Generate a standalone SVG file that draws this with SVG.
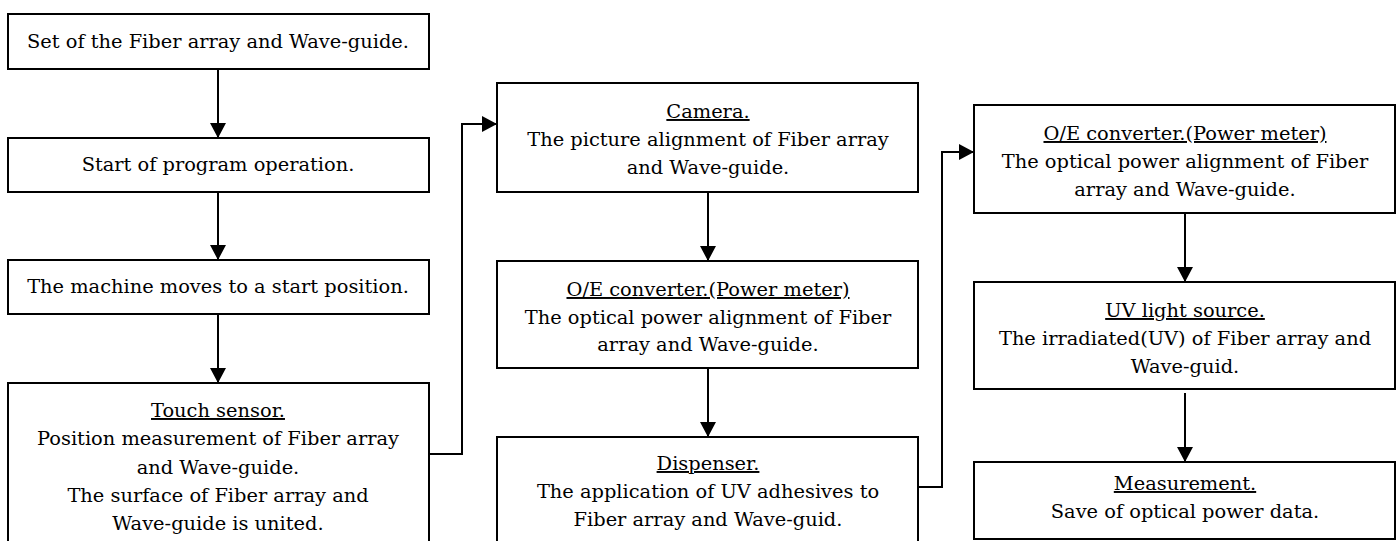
<svg xmlns="http://www.w3.org/2000/svg" width="1400" height="541" viewBox="0 0 1400 541">
<style>
.box{fill:#fff;stroke:#000;stroke-width:2}
.t{font-family:"DejaVu Serif","Liberation Serif",serif;font-size:19.4px;fill:#000;text-anchor:middle}
.u{text-decoration:underline}
.c{fill:none;stroke:#000;stroke-width:2}
</style>
<defs>
<marker id="ah" markerWidth="16" markerHeight="16" viewBox="0 0 16 16" refX="15" refY="8" orient="auto" markerUnits="userSpaceOnUse">
<path d="M0,0 L15,8 L0,16 Z" fill="#000"/>
</marker>
</defs>
<rect width="1400" height="541" fill="#fff"/>
<g id="connectors">
<path class="c" d="M218,69 V138" marker-end="url(#ah)"/>
<path class="c" d="M218,192 V260" marker-end="url(#ah)"/>
<path class="c" d="M218,314 V383" marker-end="url(#ah)"/>
<path class="c" d="M429,454 H462 V124 H497" marker-end="url(#ah)"/>
<path class="c" d="M708,192 V261" marker-end="url(#ah)"/>
<path class="c" d="M708,368 V437" marker-end="url(#ah)"/>
<path class="c" d="M918,487 H942 V152 H974" marker-end="url(#ah)"/>
<path class="c" d="M1185,213 V282" marker-end="url(#ah)"/>
<path class="c" d="M1185,393 V462" marker-end="url(#ah)"/>
</g>
<g id="n1">
<rect class="box" x="8" y="14" width="421" height="55"/>
<text class="t" x="218" y="48">Set of the Fiber array and Wave-guide.</text>
</g>
<g id="n2">
<rect class="box" x="8" y="138" width="421" height="54"/>
<text class="t" x="218" y="171">Start of program operation.</text>
</g>
<g id="n3">
<rect class="box" x="8" y="260" width="421" height="54"/>
<text class="t" x="218" y="293">The machine moves to a start position.</text>
</g>
<g id="n4">
<rect class="box" x="8" y="383" width="421" height="165"/>
<text class="t u" x="218" y="417">Touch sensor.</text>
<text class="t" x="218" y="445">Position measurement of Fiber array</text>
<text class="t" x="218" y="474">and Wave-guide.</text>
<text class="t" x="218" y="502">The surface of Fiber array and</text>
<text class="t" x="218" y="530">Wave-guide is united.</text>
</g>
<g id="n5">
<rect class="box" x="497" y="83" width="421" height="109"/>
<text class="t u" x="708" y="118">Camera.</text>
<text class="t" x="708" y="146">The picture alignment of Fiber array</text>
<text class="t" x="708" y="174">and Wave-guide.</text>
</g>
<g id="n6">
<rect class="box" x="497" y="261" width="421" height="107"/>
<text class="t u" x="708" y="296">O/E converter.(Power meter)</text>
<text class="t" x="708" y="324">The optical power alignment of Fiber</text>
<text class="t" x="708" y="351">array and Wave-guide.</text>
</g>
<g id="n7">
<rect class="box" x="497" y="437" width="421" height="111"/>
<text class="t u" x="708" y="470">Dispenser.</text>
<text class="t" x="708" y="498">The application of UV adhesives to</text>
<text class="t" x="708" y="526">Fiber array and Wave-guid.</text>
</g>
<g id="n8">
<rect class="box" x="974" y="105" width="421" height="108"/>
<text class="t u" x="1185" y="140">O/E converter.(Power meter)</text>
<text class="t" x="1185" y="168">The optical power alignment of Fiber</text>
<text class="t" x="1185" y="196">array and Wave-guide.</text>
</g>
<g id="n9">
<rect class="box" x="974" y="282" width="421" height="107"/>
<text class="t u" x="1185" y="317">UV light source.</text>
<text class="t" x="1185" y="345">The irradiated(UV) of Fiber array and</text>
<text class="t" x="1185" y="373">Wave-guid.</text>
</g>
<g id="n10">
<rect class="box" x="974" y="462" width="421" height="77"/>
<text class="t u" x="1185" y="490">Measurement.</text>
<text class="t" x="1185" y="518">Save of optical power data.</text>
</g>
</svg>
